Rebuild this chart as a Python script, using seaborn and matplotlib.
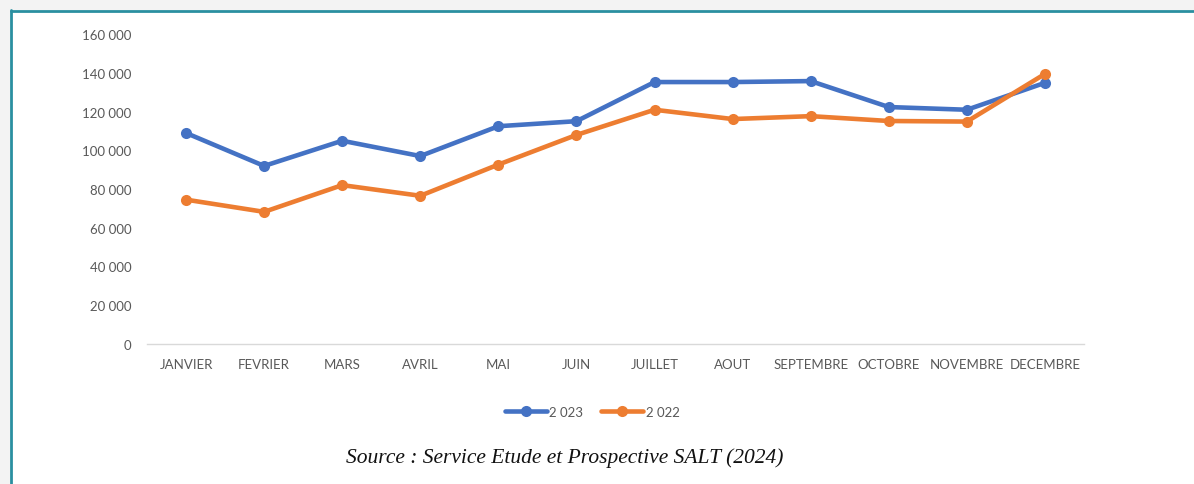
import pandas as pd
import matplotlib.pyplot as plt
import seaborn as sns
from matplotlib.ticker import FuncFormatter
from matplotlib.patches import Rectangle

mois = ['JANVIER', 'FEVRIER', 'MARS', 'AVRIL', 'MAI', 'JUIN', 'JUILLET',
        'AOUT', 'SEPTEMBRE', 'OCTOBRE', 'NOVEMBRE', 'DECEMBRE']
val_2023 = [108900, 91900, 104900, 97000, 112400, 115000, 135200,
            135200, 135700, 122300, 120900, 134800]
val_2022 = [74500, 68200, 82000, 76500, 92600, 107900, 120900,
            116100, 117600, 115100, 114800, 139400]
series = ['2 023', '2 022']
colors = ['#4472C4', '#ED7D31']

df = pd.DataFrame({
    'mois': mois * 2,
    'valeur': val_2023 + val_2022,
    'annee': [series[0]] * 12 + [series[1]] * 12,
})

sns.set_style('white')
plt.rcParams['font.family'] = ['Lato', 'DejaVu Sans']

fig = plt.figure(figsize=(11.94, 4.85), dpi=100)
fig.patch.set_facecolor('#f3f3f3')

# white panel with teal frame (left + top edges visible)
fig.patches.append(Rectangle((10 / 1194, 0), 1 - 10 / 1194, 1 - 11 / 485,
                             transform=fig.transFigure, facecolor='white',
                             edgecolor='none', zorder=-10))
fig.lines.append(plt.Line2D([10.5 / 1194, 10.5 / 1194], [0, 1 - 11 / 485],
                            transform=fig.transFigure, color='#2a8fa0', lw=2, zorder=-5))
fig.lines.append(plt.Line2D([10.5 / 1194, 1], [1 - 11.5 / 485, 1 - 11.5 / 485],
                            transform=fig.transFigure, color='#2a8fa0', lw=2, zorder=-5))

ax = fig.add_axes([147 / 1194, 1 - 345 / 485, (1084 - 147) / 1194, 310 / 485])
ax.set_facecolor('none')
ax.set_zorder(1)

sns.lineplot(data=df, x='mois', y='valeur', hue='annee', palette=colors,
             marker='o', markersize=8, markeredgewidth=0, linewidth=3.3,
             sort=False, ax=ax, legend=False)

ax.set_xlim(-0.5, 11.5)
ax.set_ylim(0, 160000)
ax.set_yticks(range(0, 160001, 20000))
ax.yaxis.set_major_formatter(FuncFormatter(lambda v, p: f'{int(v):,}'.replace(',', ' ')))
ax.set_xlabel('')
ax.set_ylabel('')
ax.tick_params(axis='both', length=0, labelsize=9.5, labelcolor='#595959')
ax.tick_params(axis='y', pad=11)
ax.tick_params(axis='x', pad=10)
for s in ['top', 'right', 'left']:
    ax.spines[s].set_visible(False)
ax.spines['bottom'].set_color('#d9d9d9')
ax.spines['bottom'].set_linewidth(1)

handles = [plt.Line2D([], [], color=c, lw=3.3, marker='o', markersize=8,
                      markeredgewidth=0) for c in colors]
fig.legend(handles, series, loc='center', bbox_to_anchor=(592 / 1194, 1 - 413 / 485),
           ncol=2, frameon=False, fontsize=9.5, labelcolor='#595959',
           handlelength=3.2, handletextpad=0.2, columnspacing=1.3)

fig.text(565 / 1194, 1 - 458 / 485, 'Source : Service Etude et Prospective SALT (2024)',
         ha='center', va='center', fontsize=15.5, style='italic',
         family=['Liberation Serif', 'DejaVu Serif'], color='#111111')

fig.savefig('out.png', dpi=100, facecolor=fig.get_facecolor())
